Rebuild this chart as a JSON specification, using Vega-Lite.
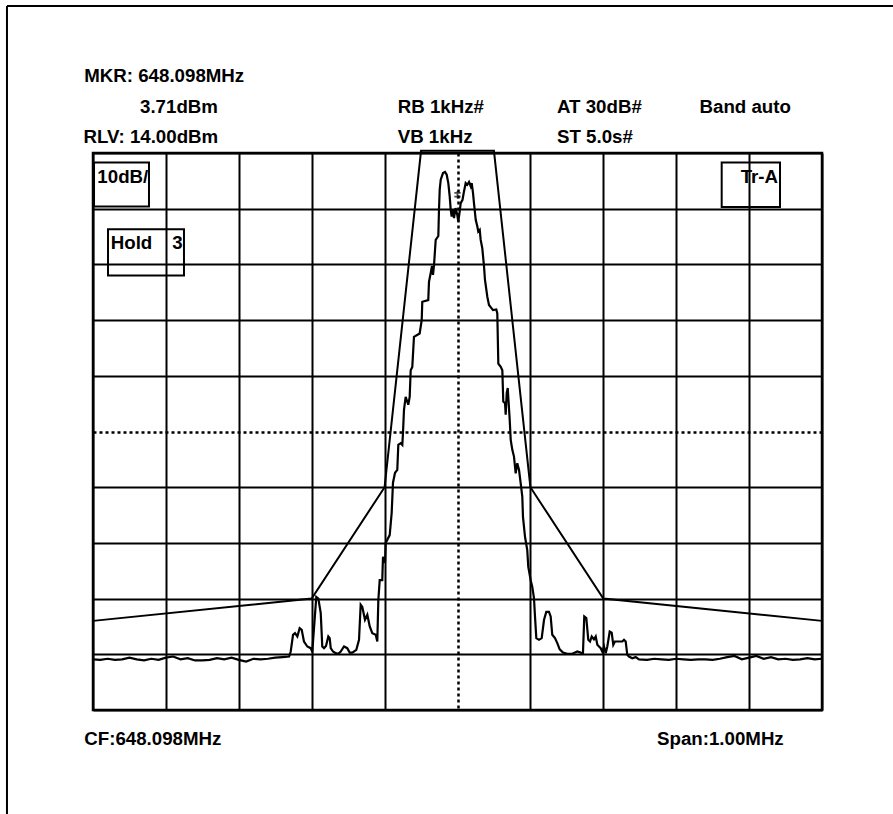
{
  "$schema": "https://vega.github.io/schema/vega-lite/v6.json",
  "width": 729,
  "height": 557,
  "autosize": {"type": "none"},
  "padding": {"left": 93, "top": 153, "right": 71, "bottom": 104},
  "background": "white",
  "config": {
    "view": {"stroke": "black", "strokeWidth": 2.5},
    "text": {"font": "Liberation Sans", "fontWeight": "bold", "fontSize": 18.7, "color": "black"}
  },
  "datasets": {
    "trace": [
      {"f": -500, "dBm": -76.9}, {"f": -490, "dBm": -77.0}, {"f": -480, "dBm": -76.8}, {"f": -470, "dBm": -77.0},
      {"f": -460, "dBm": -76.9}, {"f": -450, "dBm": -76.6}, {"f": -440, "dBm": -76.9}, {"f": -430, "dBm": -77.1},
      {"f": -420, "dBm": -76.8}, {"f": -410, "dBm": -77.0}, {"f": -400, "dBm": -76.6}, {"f": -390, "dBm": -76.4},
      {"f": -380, "dBm": -76.9}, {"f": -370, "dBm": -76.7}, {"f": -360, "dBm": -77.1}, {"f": -350, "dBm": -77.1},
      {"f": -340, "dBm": -77.0}, {"f": -330, "dBm": -76.7}, {"f": -320, "dBm": -76.9}, {"f": -310, "dBm": -76.6},
      {"f": -300, "dBm": -77.0}, {"f": -290, "dBm": -77.3}, {"f": -280, "dBm": -76.8}, {"f": -270, "dBm": -76.9},
      {"f": -260, "dBm": -76.8}, {"f": -250, "dBm": -76.6}, {"f": -240, "dBm": -76.5}, {"f": -231, "dBm": -76.4},
      {"f": -228.8, "dBm": -75.5}, {"f": -225.6, "dBm": -72.5}, {"f": -222.9, "dBm": -72.2}, {"f": -219.7, "dBm": -72.8},
      {"f": -216.5, "dBm": -71.3}, {"f": -213.7, "dBm": -71.6}, {"f": -210.6, "dBm": -73.7}, {"f": -206.0, "dBm": -74.6},
      {"f": -201.4, "dBm": -74.9}, {"f": -199.2, "dBm": -75.5}, {"f": -193.7, "dBm": -65.7}, {"f": -190.9, "dBm": -66.0},
      {"f": -187.6, "dBm": -68.6}, {"f": -185.5, "dBm": -74.6}, {"f": -183.1, "dBm": -74.9}, {"f": -180.4, "dBm": -74.5},
      {"f": -177.2, "dBm": -72.8}, {"f": -175.3, "dBm": -73.1}, {"f": -173.9, "dBm": -74.9}, {"f": -170.8, "dBm": -75.5},
      {"f": -167.1, "dBm": -75.8}, {"f": -163.5, "dBm": -75.9}, {"f": -160.2, "dBm": -75.5}, {"f": -155.7, "dBm": -74.6},
      {"f": -151.2, "dBm": -74.9}, {"f": -147.9, "dBm": -75.7}, {"f": -144.3, "dBm": -75.7}, {"f": -138.8, "dBm": -75.2},
      {"f": -135.1, "dBm": -73.4}, {"f": -132.8, "dBm": -67.1}, {"f": -130.6, "dBm": -67.5}, {"f": -126.9, "dBm": -69.8},
      {"f": -123.7, "dBm": -68.9}, {"f": -120.4, "dBm": -71.0}, {"f": -116.9, "dBm": -72.2}, {"f": -112.2, "dBm": -72.5},
      {"f": -110.0, "dBm": -73.7}, {"f": -108.6, "dBm": -66.3}, {"f": -106.7, "dBm": -62.7}, {"f": -103.2, "dBm": -62.7},
      {"f": -102.2, "dBm": -58.5}, {"f": -99.4, "dBm": -59.6}, {"f": -98.5, "dBm": -56.0}, {"f": -93.0, "dBm": -54.6},
      {"f": -90.3, "dBm": -50.6}, {"f": -88.5, "dBm": -45.2}, {"f": -85.7, "dBm": -43.4}, {"f": -82.6, "dBm": -42.9},
      {"f": -81.2, "dBm": -38.4}, {"f": -77.9, "dBm": -38.1}, {"f": -75.7, "dBm": -38.4}, {"f": -74.8, "dBm": -36.3},
      {"f": -73.4, "dBm": -32.1}, {"f": -71.1, "dBm": -29.8}, {"f": -67.5, "dBm": -31.2}, {"f": -65.6, "dBm": -29.8},
      {"f": -64.2, "dBm": -25.0}, {"f": -62.0, "dBm": -24.4}, {"f": -59.7, "dBm": -19.0}, {"f": -51.9, "dBm": -18.4},
      {"f": -49.1, "dBm": -16.0}, {"f": -48.3, "dBm": -12.7}, {"f": -40.1, "dBm": -12.4}, {"f": -39.1, "dBm": -9.1},
      {"f": -36.8, "dBm": -7.6}, {"f": -35.0, "dBm": -6.3}, {"f": -33.6, "dBm": -7.9}, {"f": -32.2, "dBm": -6.1},
      {"f": -29.9, "dBm": -1.6}, {"f": -26.3, "dBm": -0.9}, {"f": -25.4, "dBm": 3.8}, {"f": -24.4, "dBm": 7.4},
      {"f": -23.0, "dBm": 9.2}, {"f": -19.9, "dBm": 10.4}, {"f": -17.1, "dBm": 10.6}, {"f": -14.8, "dBm": 10.1},
      {"f": -12.6, "dBm": 8.6}, {"f": -10.7, "dBm": 6.2}, {"f": -9.3, "dBm": 3.8}, {"f": -8.0, "dBm": 2.6},
      {"f": -6.2, "dBm": 3.8}, {"f": -4.8, "dBm": 2.3}, {"f": -2.7, "dBm": 4.1}, {"f": -0.3, "dBm": 2.9},
      {"f": 1.1, "dBm": 1.7}, {"f": 3.0, "dBm": 3.5}, {"f": 4.4, "dBm": 5.0}, {"f": 6.9, "dBm": 5.6},
      {"f": 8.9, "dBm": 7.1}, {"f": 10.3, "dBm": 8.0}, {"f": 11.2, "dBm": 8.6}, {"f": 13.4, "dBm": 8.3},
      {"f": 15.8, "dBm": 8.8}, {"f": 18.1, "dBm": 8.0}, {"f": 19.5, "dBm": 8.6}, {"f": 21.3, "dBm": 6.8},
      {"f": 22.6, "dBm": 5.0}, {"f": 25.0, "dBm": 2.0}, {"f": 27.2, "dBm": 0.8}, {"f": 28.5, "dBm": -0.1},
      {"f": 30.5, "dBm": 0.2}, {"f": 31.8, "dBm": -1.6}, {"f": 34.0, "dBm": -3.1}, {"f": 36.4, "dBm": -6.4},
      {"f": 37.7, "dBm": -8.8}, {"f": 40.9, "dBm": -11.8}, {"f": 43.2, "dBm": -13.3}, {"f": 48.7, "dBm": -14.2},
      {"f": 53.2, "dBm": -14.1}, {"f": 54.6, "dBm": -14.8}, {"f": 56.0, "dBm": -23.8}, {"f": 59.3, "dBm": -24.4},
      {"f": 61.5, "dBm": -25.0}, {"f": 62.8, "dBm": -30.6}, {"f": 65.2, "dBm": -30.9}, {"f": 66.1, "dBm": -33.0},
      {"f": 67.5, "dBm": -29.1}, {"f": 68.9, "dBm": -28.2}, {"f": 71.6, "dBm": -33.9}, {"f": 73.0, "dBm": -37.5},
      {"f": 75.2, "dBm": -39.3}, {"f": 77.5, "dBm": -40.5}, {"f": 79.8, "dBm": -43.5}, {"f": 82.0, "dBm": -41.7},
      {"f": 84.4, "dBm": -42.9}, {"f": 86.7, "dBm": -45.3}, {"f": 88.9, "dBm": -47.7}, {"f": 89.8, "dBm": -51.3},
      {"f": 92.6, "dBm": -54.9}, {"f": 95.7, "dBm": -57.3}, {"f": 97.1, "dBm": -60.3}, {"f": 100.4, "dBm": -62.7},
      {"f": 102.6, "dBm": -63.9}, {"f": 104.9, "dBm": -65.9}, {"f": 106.3, "dBm": -69.2}, {"f": 108.1, "dBm": -73.1},
      {"f": 111.8, "dBm": -73.4}, {"f": 115.5, "dBm": -73.1}, {"f": 118.7, "dBm": -69.8}, {"f": 121.8, "dBm": -68.4},
      {"f": 125.5, "dBm": -68.4}, {"f": 127.8, "dBm": -69.2}, {"f": 130.0, "dBm": -72.5}, {"f": 133.7, "dBm": -73.1},
      {"f": 136.9, "dBm": -74.0}, {"f": 140.2, "dBm": -75.1}, {"f": 144.7, "dBm": -75.7}, {"f": 150.6, "dBm": -75.9},
      {"f": 157.5, "dBm": -75.9}, {"f": 164.3, "dBm": -75.5}, {"f": 169.0, "dBm": -75.7}, {"f": 172.1, "dBm": -75.8},
      {"f": 173.9, "dBm": -69.2}, {"f": 176.7, "dBm": -69.5}, {"f": 179.4, "dBm": -73.4}, {"f": 181.8, "dBm": -73.7},
      {"f": 184.1, "dBm": -72.8}, {"f": 187.2, "dBm": -73.3}, {"f": 189.6, "dBm": -72.8}, {"f": 191.8, "dBm": -74.3},
      {"f": 194.1, "dBm": -74.6}, {"f": 196.4, "dBm": -74.9}, {"f": 198.6, "dBm": -75.5}, {"f": 201.0, "dBm": -74.6},
      {"f": 203.3, "dBm": -75.8}, {"f": 205.5, "dBm": -74.6}, {"f": 208.8, "dBm": -71.9}, {"f": 211.5, "dBm": -72.1},
      {"f": 213.7, "dBm": -74.3}, {"f": 216.0, "dBm": -73.7}, {"f": 222.9, "dBm": -73.7}, {"f": 226.1, "dBm": -73.7},
      {"f": 228.4, "dBm": -73.4}, {"f": 230.7, "dBm": -73.7}, {"f": 232.9, "dBm": -76.1}, {"f": 235.2, "dBm": -76.4},
      {"f": 239.8, "dBm": -76.7}, {"f": 244.4, "dBm": -76.5}, {"f": 249.0, "dBm": -76.9},
      {"f": 260, "dBm": -77.0}, {"f": 270, "dBm": -76.8}, {"f": 280, "dBm": -76.9}, {"f": 290, "dBm": -77.0},
      {"f": 300, "dBm": -76.8}, {"f": 310, "dBm": -76.9}, {"f": 320, "dBm": -77.0}, {"f": 330, "dBm": -76.9},
      {"f": 340, "dBm": -76.9}, {"f": 350, "dBm": -77.0}, {"f": 360, "dBm": -76.8}, {"f": 370, "dBm": -76.5},
      {"f": 380, "dBm": -76.3}, {"f": 390, "dBm": -76.9}, {"f": 400, "dBm": -76.6}, {"f": 410, "dBm": -76.3},
      {"f": 420, "dBm": -76.8}, {"f": 430, "dBm": -76.5}, {"f": 440, "dBm": -76.9}, {"f": 450, "dBm": -76.8},
      {"f": 460, "dBm": -77.0}, {"f": 470, "dBm": -76.9}, {"f": 480, "dBm": -76.7}, {"f": 490, "dBm": -76.9},
      {"f": 500, "dBm": -76.8}
    ],
    "mask": [
      {"f": -500, "dBm": -70}, {"f": -200, "dBm": -66}, {"f": -100, "dBm": -46}, {"f": -50, "dBm": 14.4},
      {"f": 50, "dBm": 14.4}, {"f": 100, "dBm": -46}, {"f": 200, "dBm": -66}, {"f": 500, "dBm": -70}
    ],
    "marker": [{"f": 0, "dBm": 6.5}],
    "labels": [
      {"f": -512, "dBm": 26.8, "label": "MKR: 648.098MHz"},
      {"f": -435.5, "dBm": 21.2, "label": "3.71dBm"},
      {"f": -82, "dBm": 21.2, "label": "RB 1kHz#"},
      {"f": 136.5, "dBm": 21.2, "label": "AT 30dB#"},
      {"f": 332, "dBm": 21.2, "label": "Band auto"},
      {"f": -513, "dBm": 15.8, "label": "RLV: 14.00dBm"},
      {"f": -82, "dBm": 15.8, "label": "VB 1kHz"},
      {"f": 136.5, "dBm": 15.8, "label": "ST 5.0s#"},
      {"f": -512, "dBm": -92.3, "label": "CF:648.098MHz"},
      {"f": 273.7, "dBm": -92.3, "label": "Span:1.00MHz"},
      {"f": -494, "dBm": 8.7, "label": "10dB/"},
      {"f": -475.7, "dBm": -3.2, "label": "Hold"},
      {"f": -391.2, "dBm": -3.2, "label": "3"},
      {"f": 388.5, "dBm": 8.7, "label": "Tr-A"}
    ],
    "boxes": [
      {"f": -498.6, "f2": -423.2, "dBm": 12.3, "dBm2": 4.4},
      {"f": -479.4, "f2": -375.2, "dBm": 0.3, "dBm2": -8.0},
      {"f": 362.4, "f2": 442.4, "dBm": 12.3, "dBm2": 4.3}
    ]
  },
  "layer": [
    {
      "data": {"name": "trace"},
      "mark": {"type": "line", "color": "black", "strokeWidth": 2.2, "strokeJoin": "miter"},
      "encoding": {
        "x": {
          "field": "f", "type": "quantitative",
          "scale": {"domain": [-500, 500], "nice": false, "zero": false},
          "axis": {
            "values": [-500, -400, -300, -200, -100, 0, 100, 200, 300, 400, 500],
            "grid": true, "gridColor": "black", "gridOpacity": 1,
            "gridWidth": {"condition": {"test": "datum.value === 0", "value": 2.5}, "value": 2},
            "gridDash": {"condition": {"test": "datum.value === 0", "value": [3, 3]}, "value": []},
            "labels": false, "ticks": false, "domain": false, "title": null
          }
        },
        "y": {
          "field": "dBm", "type": "quantitative",
          "scale": {"domain": [-86, 14], "nice": false, "zero": false},
          "axis": {
            "values": [-86, -76, -66, -56, -46, -36, -26, -16, -6, 4, 14],
            "grid": true, "gridColor": "black", "gridOpacity": 1,
            "gridWidth": {"condition": {"test": "datum.value === -36", "value": 2.5}, "value": 2},
            "gridDash": {"condition": {"test": "datum.value === -36", "value": [3, 3]}, "value": []},
            "labels": false, "ticks": false, "domain": false, "title": null
          }
        }
      }
    },
    {
      "data": {"name": "mask"},
      "mark": {"type": "line", "color": "black", "strokeWidth": 2},
      "encoding": {
        "x": {"field": "f", "type": "quantitative"},
        "y": {"field": "dBm", "type": "quantitative"}
      }
    },
    {
      "data": {"name": "marker"},
      "mark": {"type": "point", "shape": "M-1,-0.6H1M-1,0.6H1M0,-1.2V1.2", "size": 40, "filled": false, "stroke": "black", "strokeWidth": 1.8},
      "encoding": {
        "x": {"field": "f", "type": "quantitative"},
        "y": {"field": "dBm", "type": "quantitative"}
      }
    },
    {
      "data": {"name": "boxes"},
      "mark": {"type": "rect", "fill": null, "fillOpacity": 0, "stroke": "black", "strokeWidth": 2},
      "encoding": {
        "x": {"field": "f", "type": "quantitative"},
        "x2": {"field": "f2"},
        "y": {"field": "dBm", "type": "quantitative"},
        "y2": {"field": "dBm2"}
      }
    },
    {
      "data": {"name": "labels"},
      "mark": {"type": "text", "align": "left", "baseline": "alphabetic"},
      "encoding": {
        "x": {"field": "f", "type": "quantitative"},
        "y": {"field": "dBm", "type": "quantitative"},
        "text": {"field": "label"}
      }
    },
    {
      "data": {"values": [{}]},
      "mark": {"type": "rule", "color": "black", "strokeWidth": 2},
      "encoding": {
        "x": {"datum": -618},
        "x2": {"datum": 600},
        "y": {"datum": 40.4}
      }
    },
    {
      "data": {"values": [{}]},
      "mark": {"type": "rule", "color": "black", "strokeWidth": 2},
      "encoding": {
        "x": {"datum": -618},
        "y": {"datum": 40.4},
        "y2": {"datum": -106}
      }
    }
  ]
}
